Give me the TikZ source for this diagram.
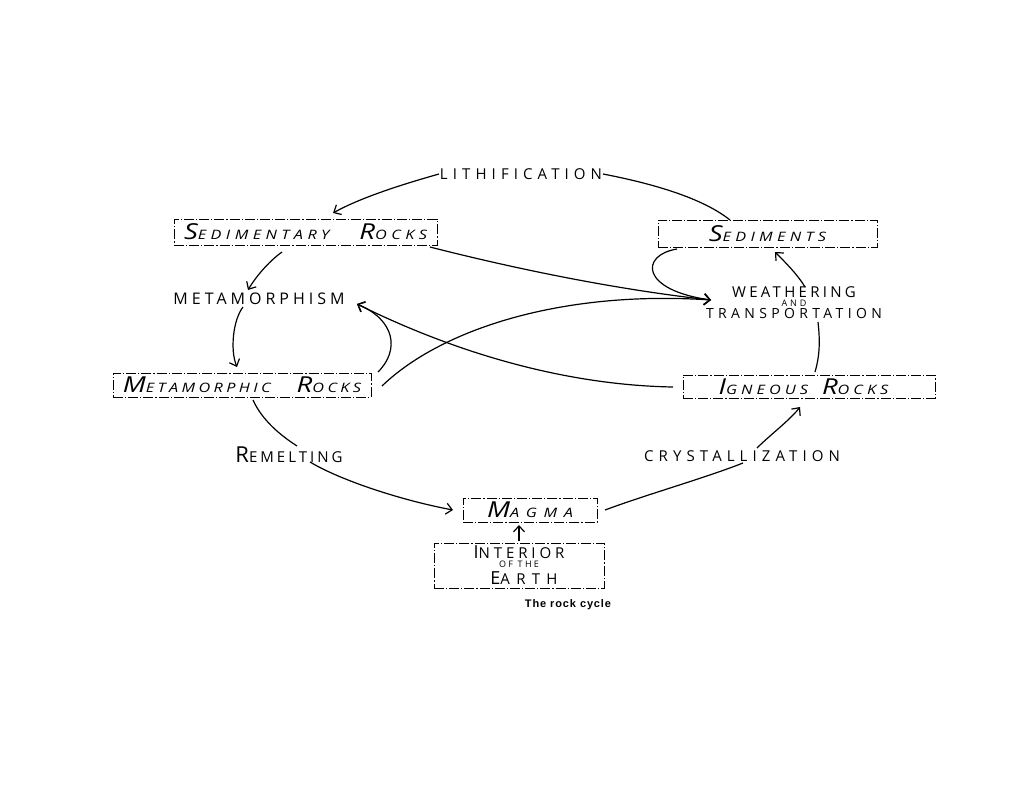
\documentclass[tikz,border=0pt]{standalone}
\usepackage{fontspec}
\usetikzlibrary{arrows.meta}
\newfontfamily\hand{Open Sans}
\newfontfamily\capfont{Liberation Sans}
\newcommand\ini[1]{{\fontsize{22}{22}\selectfont #1}}
\newcommand\inis[1]{{\fontsize{18}{18}\selectfont #1}}
\newcommand\smalltxt[1]{{\fontsize{8}{8}\selectfont #1}}
\newcommand\handls[2]{\hand\addfontfeature{LetterSpace=#1}\fontsize{#2}{#2}\selectfont}
\newcommand\boxfont[1]{\hand\itshape\addfontfeature{FakeStretch=1.25,LetterSpace=#1}\fontsize{13}{13}\selectfont}
\tikzset{
  box/.style={draw, line width=0.9pt, dash pattern=on 10pt off 2pt on 1.2pt off 2pt,
    inner sep=0pt, outer sep=0pt, font=\boxfont{32}},
  ubox/.style={box, font=\hand\addfontfeature{LetterSpace=26}\fontsize{15}{12}\selectfont, align=center},
  lab/.style={inner sep=1pt, outer sep=0pt},
  conn/.style={line width=1.2pt},
  arr/.style={conn, -{Straight Barb[length=6pt,width=11pt]}}
}
\begin{document}
\begin{tikzpicture}[x=1pt,y=1pt]
\useasboundingbox (0,0) rectangle (1020,-788);
\fill[white] (0,0) rectangle (1020,-788);

% boxes
\node[box, minimum width=263, minimum height=26, font=\boxfont{34}] (sr) at (305.5,-232) {\ini{S}EDIMENTARY\hspace{30pt}\ini{R}OCKS};
\node[box, minimum width=219, minimum height=27, font=\boxfont{33}] (sed) at (767.5,-233.5) {\ini{S}EDIMENTS};
\node[box, minimum width=258, minimum height=24, font=\boxfont{26}] (mr) at (242,-385) {\ini{M}ETAMORPHIC\hspace{26pt}\ini{R}OCKS};
\node[box, minimum width=252, minimum height=23, font=\boxfont{31}] (ig) at (809,-386.5) {\hspace{-11pt}\ini{I}GNEOUS\hspace{14pt}\ini{R}OCKS};
\node[box, minimum width=134, minimum height=24, font=\boxfont{51}] (mag) at (530,-510) {\ini{M}AGMA};
\node[ubox, minimum width=170, minimum height=45] (int) at (519,-565.5) {\inis{I}NTERIOR\\[-3pt]{\fontsize{9}{9}\selectfont OF THE}\\[3pt]\hspace{10pt}\addfontfeature{LetterSpace=42}\inis{E}ARTH};

% labels
\node[lab, font=\handls{34}{15}] (lith) at (521,-174) {LITHIFICATION};
\node[lab, font=\handls{25}{16}] (meta) at (259,-299) {METAMORPHISM};
\node[lab, align=center, font=\hand\addfontfeature{LetterSpace=31}\fontsize{14}{10}\selectfont] (weath) at (794,-303)
  {{\fontsize{15}{10}\selectfont\addfontfeature{LetterSpace=22}WEATHERING}\\[-1pt]{\fontsize{9}{9}\selectfont AND}\\[1pt]TRANSPORTATION};
\node[lab, font=\handls{20}{15}] (rem) at (289,-455) {\ini{R}EMELTING};
\node[lab, font=\handls{34}{15}] (cry) at (742,-456) {CRYSTALLIZATION};
\node[inner sep=0pt, font=\capfont\bfseries\addfontfeature{LetterSpace=8}\fontsize{11}{12}\selectfont] (cap) at (568,-605) {The rock cycle};

% arrival points
\coordinate (wtip) at ([xshift=-83pt,yshift=3pt]weath.center);
\coordinate (mtip) at ([xshift=98pt,yshift=-5pt]meta.center);

% connectors
\draw[conn] ([xshift=-37.5pt]sed.north) .. controls (705,-200) and (660,-185) .. (lith.east);
\draw[arr] (lith.west) .. controls (400,-185) and (360,-198) .. ([xshift=27.5pt,yshift=6pt]sr.north);
\draw[arr] ([xshift=-23.5pt,yshift=-7pt]sr.south) .. controls (268,-262) and (255,-278) .. ([xshift=-11pt,yshift=9pt]meta.center);
\draw[arr] ([xshift=-16pt,yshift=-8pt]meta.center) .. controls (233,-320) and (230,-350) .. ([xshift=-5pt,yshift=6pt]mr.north);
\draw[arr] ([xshift=-7pt,yshift=-2pt]sr.south east) .. controls (520,-270) and (620,-290) .. (wtip);
\draw[arr] ([xshift=11pt,yshift=-1pt]mr.east) .. controls (440,-330) and (560,-290) .. (wtip);
\draw[arr] ([xshift=19pt,yshift=-2pt]sed.south west) .. controls (640,-255) and (640,-290) .. (wtip);
\draw[arr] ([xshift=-10pt,yshift=-0.5pt]ig.west) .. controls (560,-385) and (450,-350) .. (mtip);
\draw[arr] ([xshift=7pt,yshift=1pt]mr.north east) .. controls (400,-350) and (395,-320) .. (mtip);
\draw[arr] ([xshift=11pt,yshift=16pt]weath.center) .. controls (798,-275) and (785,-262) .. ([xshift=7.5pt,yshift=-5pt]sed.south);
\draw[conn] ([xshift=6pt,yshift=3pt]ig.north) .. controls (820,-355) and (820,-340) .. ([xshift=24pt,yshift=-19pt]weath.center);
\draw[conn] ([xshift=11pt,yshift=-3pt]mr.south) .. controls (262,-420) and (280,-435) .. ([xshift=8pt,yshift=9pt]rem.center);
\draw[arr] ([xshift=21pt,yshift=-7pt]rem.center) .. controls (340,-480) and (400,-500) .. ([xshift=-10pt]mag.west);
\draw[conn] ([xshift=8pt]mag.east) .. controls (645,-495) and (705,-478) .. ([xshift=1pt,yshift=-7pt]cry.center);
\draw[arr] ([xshift=15pt,yshift=8pt]cry.center) .. controls (770,-435) and (790,-420) .. ([xshift=-9pt,yshift=-9pt]ig.south);
\draw[arr] ([yshift=2pt]int.north) -- ([xshift=-11pt,yshift=-3pt]mag.south);
\end{tikzpicture}
\end{document}
